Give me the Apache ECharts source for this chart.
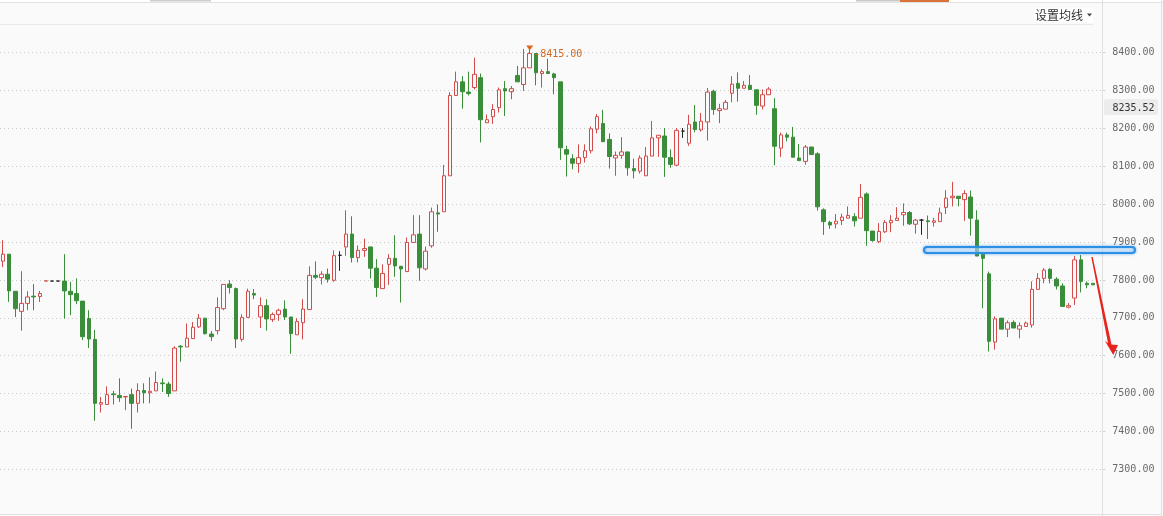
<!DOCTYPE html>
<html>
<head>
<meta charset="utf-8">
<script src="https://cdn.jsdelivr.net/npm/echarts@6/dist/echarts.min.js"></script>
<style>
html,body{margin:0;padding:0;background:#fafafa;}
#chart{width:1163px;height:516px;}
</style>
</head>
<body>
<div id="chart"></div>
<script>
// candle values: open, close, low, high
const opens = [7849.5,7868,7770,7717,7738,7757,7756,7797,7797,7797,7797,7770,7764,7744,7698,7643,7472,7471,7499,7495,7491,7497,7474,7508,7502,7507,7528,7525,7507,7625,7623,7645,7676,7699,7657,7666,7724,7789,7777,7643,7701,7764,7702,7732,7695,7709,7723,7702,7655,7687,7722,7812,7806,7815,7799,7865,7887,7921,7859,7878,7887,7831,7777,7841,7857,7836,7822,7899,7921,7829,7890,7977,7980,8075,8287,8323,8296,8308,8334,8215,8231,8255,8305,8297,8340,8316,8360,8398,8345,8350,8344,8323,8144,8120,8107,8123,8141,8198,8213,8171,8122,8129,8138,8094,8087,8075,8127,8175,8180,8123,8103,8193,8161,8217,8196,8217,8298,8247,8251,8293,8319,8306,8314,8302,8259,8289,8252,8148,8183,8177,8122,8113,8151,8133,7985,7952,7948,7957,7963,7967,7963,8027,7929,7901,7927,7951,7957,7972,7978,7947,7958,7956,7952,7954,7991,8017,8021,8012,8019,7958,7868,7816,7636,7699,7670,7688,7670,7677,7681,7775,7804,7828,7802,7784,7728,7752,7853,7791,7791];
const closes = [7868,7771,7724,7738,7755,7755,7764,7797.5,7797,7797,7771,7761,7745,7650,7644,7474,7476,7497,7497,7489,7492,7474,7508,7502,7506,7529,7526,7500,7620,7623,7646,7675,7699,7658,7650,7727,7788,7780,7644,7701,7770,7760,7732,7697,7709,7720,7702,7658,7690,7723,7812,7807,7815,7802,7864,7865,7921,7859,7878,7883,7831,7780,7817,7857,7837,7829,7899,7919,7832,7876,7980,7974,8075,8287,8323,8297,8292,8343,8223,8223,8250,8302,8299,8305,8323,8360,8398,8347,8350,8345,8334,8149,8132,8108,8123,8141,8199,8231,8165,8126,8129,8138,8096,8088,8122,8127,8175,8182,8124,8105,8195,8193,8211,8197,8219,8296,8250,8252,8269,8317,8306,8314,8303,8261,8289,8304,8153,8183,8177,8124,8115,8151,8131,7993,7954,7945,7955,7966,7970,7956,8018,7930,7904,7928,7952,7957,7963,7978,7948,7958,7958,7954,7956,7977,8016,8021,8015,8028,7963,7863,7857,7638,7697,7670,7687,7673,7679,7686,7775,7804,7826,7804,7784,7730,7732,7853,7796,7787,7787];
const lows = [7834,7742,7702,7666,7720,7720,7742,7797,7797,7797,7698,7707,7736,7641,7620,7428,7450,7471,7471,7478,7456,7407,7450,7474,7474,7507,7504,7491,7507,7584,7623,7645,7673,7656,7639,7656,7720,7764,7620,7637,7701,7749,7673,7666,7689,7692,7694,7605,7655,7643,7720,7802,7788,7793,7795,7824,7864,7846,7846,7861,7804,7755,7777,7787,7808,7740,7822,7899,7798,7825,7885,7927,7980,8075,8287,8252,8287,8303,8163,8215,8212,8242,8233,8277,8323,8299,8360,8314,8308,8345,8290,8117,8073,8092,8083,8110,8134,8187,8165,8094,8075,8120,8075,8068,8081,8075,8127,8125,8072,8096,8101,8175,8154,8190,8192,8168,8236,8214,8251,8269,8271,8306,8303,8236,8250,8289,8103,8125,8166,8124,8115,8104,8130,7983,7919,7935,7936,7945,7963,7941,7963,7890,7901,7897,7924,7926,7957,7943,7945,7922,7919,7908,7941,7954,7974,7994,7994,7956,7917,7863,7725,7611,7616,7670,7649,7673,7646,7677,7674,7775,7791,7791,7775,7730,7725,7734,7767,7778,7787];
const highs = [7905,7868,7770,7823,7770,7789,7771,7797.5,7797,7797,7868,7795,7804,7744,7720,7668,7491,7519,7507,7540,7492,7513,7527,7527,7543,7558,7540,7531,7625,7628,7685,7689,7710,7699,7665,7754,7788,7799,7780,7709,7777,7776,7754,7749,7714,7724,7746,7702,7699,7749,7836,7849,7823,7830,7878,7876,7984,7968,7891,7909,7887,7855,7841,7868,7918,7837,7912,7971,7971,7888,7991,7999,8104,8296,8350,8338,8350,8387,8345,8237,8264,8308,8325,8312,8365,8410,8415,8398,8356,8384,8347,8323,8154,8132,8158,8158,8205,8238,8249,8187,8139,8177,8138,8120,8129,8151,8220,8182,8201,8145,8201,8201,8236,8262,8241,8307,8302,8265,8275,8338,8348,8325,8341,8302,8303,8309,8280,8189,8189,8204,8159,8156,8151,8137,7989,7956,7974,7975,7994,7976,8053,8031,7929,7950,7958,7971,7992,8002,7982,7961,7961,7970,7964,7991,8037,8059,8021,8037,8036,7984,7868,7822,7704,7699,7693,7693,7688,7690,7796,7818,7831,7831,7807,7791,7739,7863,7866,7796,7791];
const slotCount = 180; // one empty slot after the last candle
const categories = Array.from({length: slotCount}, (_, i) => String(i + 1));
const yTicks = {min: 7200, max: 8500, step: 100};
const lastPriceText = '8235.52';
const menuText = '设置均线';

const candles = opens.map((o, i) => [o, closes[i], lows[i], highs[i]]);

const chart = echarts.init(document.getElementById('chart'), null, {renderer: 'canvas'});
chart.setOption({
  animation: false,
  backgroundColor: '#fafafa',
  grid: {left: -1.4, right: 60.7, top: 14.83, bottom: 8.87},
  xAxis: {type: 'category', data: categories, show: false, boundaryGap: true},
  yAxis: {
    type: 'value', position: 'right', min: yTicks.min, max: yTicks.max, interval: yTicks.step,
    axisLine: {show: false},
    axisTick: {show: true, length: 3, lineStyle: {color: '#cfcfcf'}},
    axisLabel: {
      margin: 10, color: '#6a6a6a', fontFamily: 'DejaVu Sans Mono', fontSize: 10,
      padding: [3, 0, 0, 0],
      formatter: v => v.toFixed(2), showMinLabel: false, showMaxLabel: false
    },
    splitLine: {show: true, showMinLine: false, showMaxLine: false, lineStyle: {color: '#c8c8c8', type: [1, 3]}}
  },
  series: [{
    type: 'candlestick',
    data: candles,
    barWidth: 4,
    itemStyle: {
      color: 'rgba(0,0,0,0)', color0: '#3a8e3a',
      borderColor: '#d34b4b', borderColor0: '#3a8e3a', borderColorDoji: '#222',
      borderWidth: 1
    },
    markPoint: {
      symbol: 'triangle', symbolRotate: 180, symbolSize: [7, 5], symbolOffset: [0, 1],
      itemStyle: {color: '#e0661e'},
      label: {
        show: true, position: 'right', distance: 1, offset: [0, 6],
        color: '#d0691f', fontFamily: 'DejaVu Sans Mono', fontSize: 10,
        formatter: p => '-' + Number(p.value).toFixed(2)
      },
      data: [{type: 'max', valueDim: 'highest'}]
    }
  }],
  graphic: [
    {type: 'rect', shape: {x: 0, y: 0, width: 1163, height: 2}, style: {fill: '#ffffff'}, z: 10},
    {type: 'rect', shape: {x: 150, y: 0, width: 61, height: 1.5}, style: {fill: '#cccccc'}, z: 11},
    {type: 'rect', shape: {x: 856, y: 0, width: 44, height: 1.5}, style: {fill: '#c8c8c8'}, z: 11},
    {type: 'rect', shape: {x: 900, y: 0, width: 49, height: 2}, style: {fill: '#d9733a'}, z: 11},
    {type: 'line', shape: {x1: 0, y1: 2.5, x2: 1163, y2: 2.5}, style: {stroke: '#e2e2e2', lineWidth: 1}, z: 10},
    {type: 'line', shape: {x1: 0, y1: 24.5, x2: 1093, y2: 24.5}, style: {stroke: '#e8e8e8', lineWidth: 1}, z: 10},
    {type: 'line', shape: {x1: 1102.5, y1: 0, x2: 1102.5, y2: 516}, style: {stroke: '#e0e0e0', lineWidth: 1}, z: 10},
    {type: 'line', shape: {x1: 1161.5, y1: 0, x2: 1161.5, y2: 516}, style: {stroke: '#e0e0e0', lineWidth: 1}, z: 10},
    {type: 'line', shape: {x1: 0, y1: 514.5, x2: 1162, y2: 514.5}, style: {stroke: '#e0e0e0', lineWidth: 1}, z: 10},
    {type: 'rect', shape: {x: 1034, y: 8, width: 59, height: 14}, style: {fill: '#ffffff'}, z: 11},
    {type: 'text', x: 1035, y: 15, style: {text: menuText, font: '12px "Noto Sans CJK SC"', fill: '#333', verticalAlign: 'middle'}, z: 12},
    {type: 'polygon', shape: {points: [[1087, 13.5], [1092, 13.5], [1089.5, 16.5]]}, style: {fill: '#444'}, z: 12},
    {type: 'rect', shape: {x: 1104, y: 99, width: 54, height: 16, r: 2}, style: {fill: '#ececec'}, z: 11},
    {type: 'text', x: 1112.5, y: 108, style: {text: lastPriceText, font: '10px "DejaVu Sans Mono"', fill: '#333', verticalAlign: 'middle'}, z: 12},
    {type: 'rect', shape: {x: 924, y: 247, width: 211, height: 6, r: 3},
      style: {fill: 'rgba(255,255,255,0.45)', stroke: '#2b8fe3', lineWidth: 2, shadowBlur: 3, shadowColor: 'rgba(60,150,240,0.7)'}, z: 13},
    {type: 'polygon', shape: {points: [[1091.3, 257], [1092.7, 257], [1111.6, 345], [1108.6, 346]]}, style: {fill: '#e8221c'}, z: 13},
    {type: 'polygon', shape: {points: [[1113.3, 355], [1105, 341], [1110.2, 344.5], [1118, 345]]}, style: {fill: '#e8221c'}, z: 13}
  ]
});
</script>
</body>
</html>
